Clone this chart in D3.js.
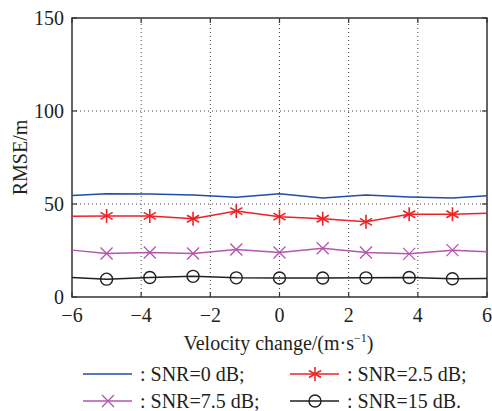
<!DOCTYPE html>
<html>
<head>
<meta charset="utf-8">
<script src="https://cdn.jsdelivr.net/npm/d3@7"></script>
<style>
  html, body { margin: 0; font-family: 'Liberation Serif', serif; }
  text, tspan { font-family: 'Liberation Serif', serif !important; }
</style>
</head>
<body>
<script>
// data
const velocity = [-6, -5, -3.75, -2.5, -1.25, 0, 1.25, 2.5, 3.75, 5, 6];
const hasMarker = [false, true, true, true, true, true, true, true, true, true, false];
const snr0 = [54.6, 55.5, 55.4, 54.8, 53.6, 55.5, 53.2, 54.8, 53.8, 53.2, 54.5];
const snr25 = [43.4, 43.6, 43.6, 42.1, 46.2, 43.2, 42.1, 40.4, 44.5, 44.5, 45.0];
const snr75 = [25.2, 23.4, 23.9, 23.4, 25.5, 23.9, 26.2, 23.9, 23.2, 25.2, 24.3];
const snr15 = [10.5, 9.6, 10.5, 11.1, 10.3, 10.2, 10.2, 10.3, 10.5, 9.8, 9.9];
const xTicks = [-6, -4, -2, 0, 2, 4, 6];
const yTicks = [0, 50, 100, 150];

const series = [
  { name: ': SNR=0 dB;', values: snr0, color: '#1f4ea3', marker: 'none' },
  { name: ': SNR=2.5 dB;', values: snr25, color: '#ec2227', marker: 'star' },
  { name: ': SNR=7.5 dB;', values: snr75, color: '#b455b0', marker: 'cross' },
  { name: ': SNR=15 dB.', values: snr15, color: '#231f20', marker: 'circle' }
];

const width = 492, height = 411;
const margin = { left: 72, right: 5, top: 18, bottom: 114 };

const svg = d3.select('body').append('svg')
    .attr('width', width)
    .attr('height', height)
    .style('font-family', "'Liberation Serif', serif");

const x = d3.scaleLinear().domain([-6, 6]).range([margin.left, width - margin.right]);
const y = d3.scaleLinear().domain([0, 150]).range([height - margin.bottom, margin.top]);

function serif(sel) {
    return sel.style('font-family', "'Liberation Serif', serif")
        .attr('fill', '#231f20');
}

//grid
svg.append('g')
    .selectAll('line')
    .data(xTicks.slice(1, -1))
    .enter().append('line')
    .attr('x1', d => x(d)).attr('x2', d => x(d))
    .attr('y1', y(0)).attr('y2', y(150))
    .attr('stroke', '#444').attr('stroke-width', 1)
    .attr('stroke-dasharray', '1,3');

svg.append('g')
    .selectAll('line')
    .data(yTicks.slice(1, -1))
    .enter().append('line')
    .attr('x1', x(-6)).attr('x2', x(6))
    .attr('y1', d => y(d)).attr('y2', d => y(d))
    .attr('stroke', '#444').attr('stroke-width', 1)
    .attr('stroke-dasharray', '1,3');

//tick marks on all four sides
svg.append('g').selectAll('line').data(xTicks)
    .enter().append('line')
    .attr('x1', d => x(d)).attr('x2', d => x(d))
    .attr('y1', y(0)).attr('y2', y(0) - 5)
    .attr('stroke', '#333').attr('stroke-width', 1.2);
svg.append('g').selectAll('line').data(xTicks)
    .enter().append('line')
    .attr('x1', d => x(d)).attr('x2', d => x(d))
    .attr('y1', y(150)).attr('y2', y(150) + 5)
    .attr('stroke', '#333').attr('stroke-width', 1.2);
svg.append('g').selectAll('line').data(yTicks)
    .enter().append('line')
    .attr('x1', x(-6)).attr('x2', x(-6) + 5)
    .attr('y1', d => y(d)).attr('y2', d => y(d))
    .attr('stroke', '#333').attr('stroke-width', 1.2);
svg.append('g').selectAll('line').data(yTicks)
    .enter().append('line')
    .attr('x1', x(6)).attr('x2', x(6) - 5)
    .attr('y1', d => y(d)).attr('y2', d => y(d))
    .attr('stroke', '#333').attr('stroke-width', 1.2);

//tick labels
serif(svg.append('g').selectAll('text').data(xTicks)
    .enter().append('text')
    .attr('x', d => x(d))
    .attr('y', y(0) + 25)
    .attr('text-anchor', 'middle')
    .attr('font-size', 20)
    .text(d => d < 0 ? '\u2212' + Math.abs(d) : d));

serif(svg.append('g').selectAll('text').data(yTicks)
    .enter().append('text')
    .attr('x', x(-6) - 8)
    .attr('y', d => y(d) + 7)
    .attr('text-anchor', 'end')
    .attr('font-size', 20)
    .text(d => d));

//box
svg.append('rect')
    .attr('x', x(-6)).attr('y', y(150))
    .attr('width', x(6) - x(-6)).attr('height', y(0) - y(150))
    .attr('fill', 'none').attr('stroke', '#333').attr('stroke-width', 1.5);

//markers
function drawMarker(g, type, color) {
    if (type === 'star') {
        [0, 60, 120].forEach(a => {
            g.append('line')
                .attr('x1', 0).attr('y1', -7).attr('x2', 0).attr('y2', 7)
                .attr('transform', `rotate(${a})`)
                .attr('stroke', color).attr('stroke-width', 1.6);
        });
    } else if (type === 'cross') {
        g.append('path').attr('d', 'M-6,-6L6,6M-6,6L6,-6')
            .attr('stroke', color).attr('stroke-width', 1.3).attr('fill', 'none');
    } else if (type === 'circle') {
        g.append('circle').attr('r', 6)
            .attr('fill', 'none').attr('stroke', color).attr('stroke-width', 1.4);
    }
}

const line = d3.line()
    .x((d, i) => x(velocity[i]))
    .y(d => y(d));

series.forEach(s => {
    svg.append('path')
        .attr('d', line(s.values))
        .attr('fill', 'none')
        .attr('stroke', s.color)
        .attr('stroke-width', 1.5);

    s.values.forEach((v, i) => {
        if (!hasMarker[i]) return;
        const g = svg.append('g').attr('transform', `translate(${x(velocity[i])},${y(v)})`);
        drawMarker(g, s.marker, s.color);
    });
});

//labels
const xLabel = serif(svg.append('text')
    .attr('x', (x(-6) + x(6)) / 2 - 1)
    .attr('y', 350)
    .attr('text-anchor', 'middle')
    .attr('font-size', 20));
xLabel.append('tspan').text('Velocity change/(m\u00b7s');
xLabel.append('tspan').attr('dy', -8).attr('font-size', 12).text('\u22121');
xLabel.append('tspan').attr('dy', 8).text(')');

serif(svg.append('text')
    .attr('transform', `translate(27,${(y(0) + y(150)) / 2}) rotate(-90)`)
    .attr('text-anchor', 'middle')
    .attr('font-size', 20)
    .text('RMSE/m'));

//legend
const legendPos = [[83, 374], [290, 374], [83, 401], [290, 401]];
series.forEach((s, k) => {
    const [lx, ly] = legendPos[k];
    svg.append('line')
        .attr('x1', lx).attr('x2', lx + 49)
        .attr('y1', ly).attr('y2', ly)
        .attr('stroke', s.color).attr('stroke-width', 1.5);
    const g = svg.append('g').attr('transform', `translate(${lx + 25},${ly})`);
    drawMarker(g, s.marker, s.color);
    serif(svg.append('text')
        .attr('x', lx + 57)
        .attr('y', ly + 7)
        .attr('font-size', 20)
        .text(s.name));
});
</script>
</body>
</html>
